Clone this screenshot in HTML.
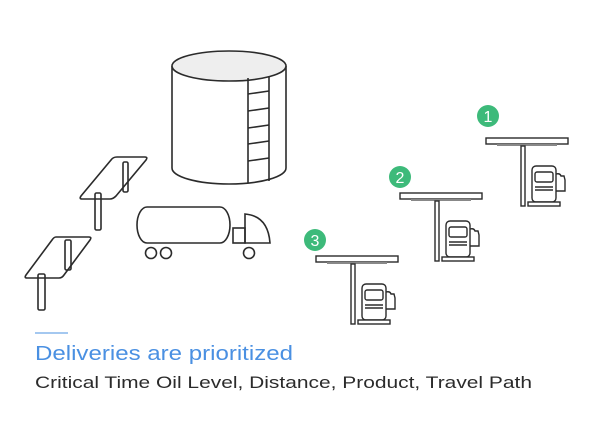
<!DOCTYPE html>
<html><head><meta charset="utf-8"><style>
html,body{margin:0;padding:0;background:#fff;width:600px;height:424px;overflow:hidden}
svg{display:block}
</style></head><body>
<svg width="600" height="424" viewBox="0 0 600 424" xmlns="http://www.w3.org/2000/svg" font-family="Liberation Sans, sans-serif">
<g fill="none" stroke="#2b2b2b" stroke-width="1.6">
<path d="M172 66 L172 168 A57 16 0 0 0 286 168 L286 66" fill="#fff"/>
<ellipse cx="229" cy="66" rx="57" ry="15" fill="#eeeeee"/>
<line x1="248" y1="78" x2="248" y2="183"/>
<line x1="269" y1="76" x2="269" y2="181"/>
<line x1="248" y1="94" x2="269" y2="91"/>
<line x1="248" y1="111" x2="269" y2="108"/>
<line x1="248" y1="128" x2="269" y2="125"/>
<line x1="248" y1="144" x2="269" y2="141"/>
<line x1="248" y1="161" x2="269" y2="158"/>
<path d="M117 157 L145 157 Q148 157 146 160 L116 196 Q113 199 110 199 L82 199 Q79 199 81 196 L111 160 Q113 157 117 157 Z"/>
<rect x="123" y="162" width="5" height="30" rx="1.5"/>
<rect x="95" y="193" width="6" height="37" rx="1.5"/>
<path d="M56 237 L89 237 Q92 237 90 240 L64 275 Q62 278 59 278 L27 278 Q24 278 26 275 L52 240 Q54 237 56 237 Z"/>
<rect x="65" y="240" width="6" height="30" rx="1.5"/>
<rect x="38" y="274" width="7" height="36" rx="1.5"/>
<rect x="137" y="207" width="93" height="36" rx="10" ry="18"/>
<rect x="233" y="228" width="12" height="15"/>
<path d="M245 243 L245 214 Q268 216 270 243 Z"/>
<circle cx="151" cy="253" r="5.5"/>
<circle cx="166" cy="253" r="5.5"/>
<circle cx="249" cy="253" r="5.5"/>
</g>
<defs>
<g id="st" fill="#fff" stroke="#2b2b2b" stroke-width="1.4">
<rect x="486" y="138" width="82" height="6"/>
<rect x="497" y="144" width="60" height="2" fill="#888" stroke="none"/>
<rect x="521" y="146" width="4" height="60"/>
<rect x="532" y="166" width="24" height="36" rx="4"/>
<rect x="535" y="172" width="18" height="10" rx="2"/>
<line x1="535" y1="187" x2="553" y2="187"/>
<line x1="535" y1="190" x2="553" y2="190"/>
<rect x="528" y="202" width="32" height="4"/>
<path d="M556 174 Q560 173 561 176 L564 176 L565 180 L565 191 L556 191" fill="none"/>
</g>
</defs>
<use href="#st"/>
<use href="#st" x="-86" y="55"/>
<use href="#st" x="-170" y="118"/>
<g fill="#3dba7a"><circle cx="488" cy="116" r="11"/><circle cx="400" cy="177" r="11"/><circle cx="315" cy="240" r="11"/></g>
<g fill="#fff" font-size="16" text-anchor="middle"><text x="488" y="122">1</text><text x="400" y="183">2</text><text x="315" y="246">3</text></g>
<line x1="35" y1="333" x2="68" y2="333" stroke="#4a90e2" stroke-width="1"/>
<text x="35" y="360" font-size="20" fill="#4a90e2" textLength="258" lengthAdjust="spacingAndGlyphs">Deliveries are prioritized</text>
<text x="35" y="388" font-size="17" fill="#2b2b2b" textLength="497" lengthAdjust="spacingAndGlyphs">Critical Time Oil Level, Distance, Product, Travel Path</text>
</svg>
</body></html>
